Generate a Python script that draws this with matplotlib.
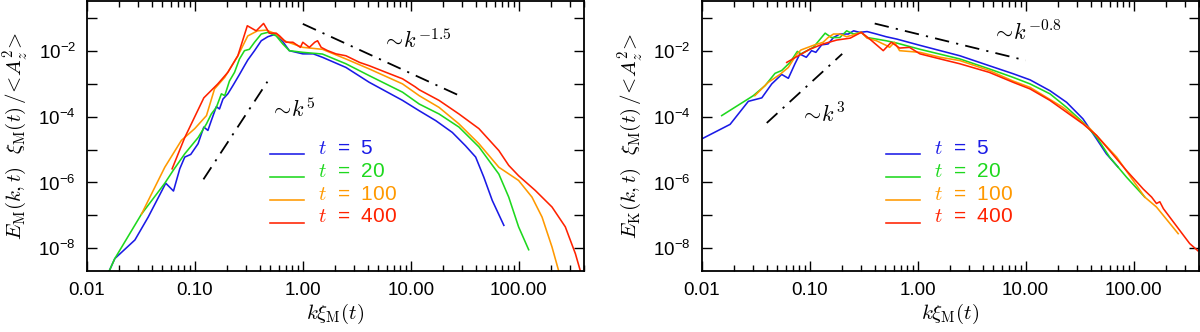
import math

import matplotlib
matplotlib.use("Agg")
import matplotlib.pyplot as plt
from matplotlib.ticker import FixedLocator, FuncFormatter, LogLocator, NullFormatter, NullLocator

plt.rcParams["font.family"] = ["Liberation Sans", "DejaVu Sans"]
plt.rcParams["mathtext.fontset"] = "cm"

# ---- magnetic spectra (left panel), k xi_M vs E_M xi_M / <A_z^2>
EM_K_T5 = [0.016, 0.0181, 0.0278, 0.0369, 0.0537, 0.0633, 0.0724, 0.0805, 0.0915, 0.107,
           0.115, 0.121, 0.132, 0.142, 0.158, 0.169, 0.182, 0.202, 0.225, 0.259, 0.288,
           0.309, 0.357, 0.412, 0.474, 0.567, 0.652, 0.75, 1.0, 1.25, 1.52, 2.51, 4.12,
           8.4, 12, 17.1, 24.3, 32.2, 40, 47.6, 57, 73]
EM_E_T5 = [2e-9, 4.9e-9, 1.8e-8, 8.9e-8, 9.5e-7, 5.5e-7, 2.6e-6, 5.9e-6, 7.1e-6, 1.5e-5,
           3.0e-5, 4.8e-5, 3.8e-5, 7.6e-5, 2.0e-4, 1.7e-4, 3.4e-4, 4.9e-4, 8.7e-4, 1.9e-3,
           3.5e-3, 5.2e-3, 1e-2, 2e-2, 2.65e-2, 3.2e-2, 1.9e-2, 1.0e-2, 8.0e-3, 8.0e-3,
           6.3e-3, 3.1e-3, 1.1e-3, 3.1e-4, 1.5e-4, 7.5e-5, 3.3e-5, 1.3e-5, 5.9e-6, 1.45e-6,
           2.85e-7, 5.0e-8]

EM_K_T20 = [0.016, 0.0181, 0.032, 0.0526, 0.0628, 0.0805, 0.107, 0.128, 0.142, 0.158, 0.176,
            0.189, 0.209, 0.233, 0.259, 0.288, 0.32, 0.357, 0.412, 0.474, 0.567, 0.652, 0.75,
            1.0, 1.52, 2.51, 4.12, 8.4, 12, 18.3, 28, 42.9, 65.6, 81, 100, 124]
EM_E_T20 = [2e-9, 4.9e-9, 1.1e-7, 9.5e-7, 2.3e-6, 7.4e-6, 2.3e-5, 6.0e-5, 1.2e-4, 1.9e-4,
            4.9e-4, 4.3e-4, 1.2e-3, 2.2e-3, 5.6e-3, 1e-2, 1.1e-2, 1.8e-2, 3.2e-2, 3.6e-2,
            2.8e-2, 1.6e-2, 1.0e-2, 8.9e-3, 7.9e-3, 4.0e-3, 1.75e-3, 5.5e-4, 2.4e-4, 1.2e-4,
            4.8e-5, 1.2e-5, 1.8e-6, 3.6e-7, 4.5e-8, 9.1e-9]

EM_K_T100 = [0.032, 0.0526, 0.075, 0.0996, 0.128, 0.152, 0.189, 0.25, 0.309, 0.38, 0.46,
             0.567, 0.67, 1.0, 1.52, 2.51, 4.12, 8.4, 12, 18.3, 28, 42.9, 65.6, 100, 133,
             165, 204, 235]
EM_E_T100 = [1.1e-7, 2.9e-6, 1.9e-5, 4.3e-5, 1.07e-4, 6.9e-4, 1.55e-3, 7e-3, 2.8e-2, 4.0e-2,
             4.2e-2, 3.2e-2, 2.0e-2, 1.26e-2, 1.1e-2, 5.6e-3, 2.8e-3, 9.8e-4, 4.3e-4, 1.9e-4,
             6e-5, 1.5e-5, 2.9e-6, 1.15e-6, 3.6e-7, 8.9e-8, 1.1e-8, 2.1e-9]

EM_K_T400 = [0.0615, 0.0805, 0.121, 0.163, 0.202, 0.25, 0.306, 0.37, 0.433, 0.49, 0.567,
             0.61, 0.70, 0.81, 0.95, 1.0, 1.15, 1.29, 1.37, 1.48, 1.70, 2.03, 2.51, 3.36,
             4.12, 5.9, 8.4, 11.0, 12, 18.3, 28, 42.9, 65.6, 81, 100, 143, 204, 271, 336, 373]
EM_E_T400 = [2.6e-6, 2.3e-5, 3.7e-4, 9.8e-4, 2.2e-3, 7e-3, 5.7e-2, 4.0e-2, 6.7e-2, 3.4e-2,
             3.4e-2, 2.8e-2, 1.8e-2, 1.8e-2, 1.26e-2, 1.8e-2, 1.26e-2, 1.8e-2, 2.0e-2,
             1.26e-2, 1.0e-2, 8e-3, 7e-3, 4.4e-3, 3.5e-3, 2.2e-3, 1.4e-3, 8.0e-4, 6.5e-4,
             3.1e-4, 1.2e-4, 4.3e-5, 9.3e-6, 3.3e-6, 1.6e-6, 5.7e-7, 1.8e-7, 4.5e-8, 6.9e-9,
             2.1e-9]

# ---- kinetic spectra (right panel)
EK_K_T5 = [0.01, 0.0183, 0.027, 0.036, 0.0445, 0.055, 0.0634, 0.073, 0.081, 0.093, 0.104,
           0.114, 0.129, 0.148, 0.166, 0.19, 0.228, 0.255, 0.29, 0.34, 0.415, 0.51, 0.64,
           1.05, 2.46, 4.6, 7.65, 11, 16.8, 24, 34, 45.4, 56, 72]
EK_E_T5 = [2.1e-5, 5.8e-5, 2.9e-4, 3.7e-4, 9.8e-4, 1.9e-3, 1.45e-3, 4e-3, 7.9e-3, 6.3e-3,
           1e-2, 8.9e-3, 1.5e-2, 1.6e-2, 2.5e-2, 3.2e-2, 3.2e-2, 4.0e-2, 3.6e-2, 3.8e-2,
           3.2e-2, 2.65e-2, 2.25e-2, 1.45e-2, 7e-3, 3.5e-3, 2e-3, 1.3e-3, 6.1e-4, 2.7e-4,
           8.5e-5, 2.1e-5, 7.4e-6, 2.9e-6]

EK_K_T20 = [0.0153, 0.030, 0.0386, 0.0477, 0.055, 0.0657, 0.0768, 0.083, 0.108, 0.139,
            0.159, 0.19, 0.22, 0.255, 0.30, 0.34, 0.415, 0.51, 0.64, 1.05, 2.46, 4.6, 7.65,
            11, 16.8, 24, 34, 45.4, 60, 86, 127]
EK_E_T20 = [1.07e-4, 4.3e-4, 8.7e-4, 2.05e-3, 2.5e-3, 4.4e-3, 9.5e-3, 8e-3, 1.26e-2, 3.4e-2,
            2.5e-2, 2.5e-2, 4.0e-2, 3.2e-2, 3.6e-2, 2.5e-2, 2.25e-2, 2e-2, 1.7e-2, 1.1e-2,
            5.6e-3, 2.8e-3, 1.55e-3, 9.8e-4, 4.9e-4, 1.9e-4, 6.7e-5, 2.4e-5, 5.9e-6, 1.45e-6,
            3.6e-7]

EK_K_T100 = [0.031, 0.0414, 0.053, 0.0634, 0.076, 0.083, 0.108, 0.133, 0.148, 0.166, 0.19,
             0.22, 0.27, 0.30, 0.34, 0.415, 0.51, 0.55, 0.61, 0.68, 1.05, 1.62, 2.46, 4.6,
             7.65, 11, 22.2, 39.5, 69.7, 127, 163, 259]
EK_E_T100 = [4.3e-4, 1.1e-3, 1.9e-3, 3.1e-3, 7.9e-3, 1.05e-2, 1.45e-2, 1.8e-2, 2.5e-2,
             3.2e-2, 3.2e-2, 2.65e-2, 3.2e-2, 3.6e-2, 2.4e-2, 2e-2, 1.45e-2, 1.26e-2, 1.8e-2,
             1e-2, 8.9e-3, 6.3e-3, 5e-3, 2.5e-3, 1.2e-3, 7.7e-4, 1.9e-4, 4.3e-5, 5.9e-6,
             3.6e-7, 1.8e-7, 2.8e-8]

EK_K_T400 = [0.0612, 0.0784, 0.1, 0.133, 0.178, 0.237, 0.30, 0.36, 0.48, 0.57, 0.68, 0.84,
             1.05, 1.62, 2.46, 4.6, 7.65, 11, 16.8, 24, 34, 45.4, 60, 86, 123, 147, 163, 175,
             189, 268, 331, 394]
EK_E_T400 = [4.4e-3, 7e-3, 1.1e-2, 1.6e-2, 2.1e-2, 2.4e-2, 3.6e-2, 2.25e-2, 1e-2, 1.8e-2,
             1.2e-2, 1.26e-2, 8e-3, 5.6e-3, 4e-3, 2.2e-3, 1.1e-3, 6.9e-4, 3.1e-4, 1.35e-4,
             6e-5, 2.7e-5, 9.3e-6, 2.3e-6, 6.3e-7, 3.6e-7, 2.3e-7, 2.6e-7, 1.6e-7, 3.5e-8,
             1.4e-8, 8.5e-9]

TIMES = ["5", "20", "100", "400"]
COLORS = ["#1a1ae6", "#1ed81e", "#ff9900", "#ff2200"]

# reference power laws: (k_start, k_end, amplitude, exponent, label k, label y, label)
EM_SLOPES = [(0.12, 0.47, 0.05, 5.0, 0.50, 1.6e-4, r"$\sim\!k^{5}$"),
             (1.0, 30.0, 0.065, -1.5, 5.4, 0.02, r"$\sim\!k^{-1.5}$")]
EK_SLOPES = [(0.04, 0.2, 1.0, 3.0, 0.081, 1.05e-4, r"$\sim\!k^{3}$"),
             (0.4, 10.0, 0.032, -0.8, 4.9, 0.034, r"$\sim\!k^{-0.8}$")]

XLIM = (0.01, 400)
YLIM = (2.1e-9, 0.33)


def y_label(v, _):
    e = round(math.log10(v))
    return r"$\mathregular{10^{%d}}$" % e if e % 2 == 0 else ""


def style_axes(ax, ylabel):
    ax.set_xscale("log")
    ax.set_yscale("log")
    ax.set_xlim(*XLIM)
    ax.set_ylim(*YLIM)
    ax.xaxis.set_major_locator(LogLocator(base=10, numticks=10))
    ax.xaxis.set_minor_locator(LogLocator(base=10, subs=range(2, 10), numticks=20))
    ax.xaxis.set_major_formatter(FuncFormatter(lambda v, _: f"{v:.2f}"))
    ax.xaxis.set_minor_formatter(NullFormatter())
    ax.yaxis.set_major_locator(FixedLocator([10.0 ** e for e in range(-9, 0)]))
    ax.yaxis.set_minor_locator(NullLocator())
    ax.yaxis.set_major_formatter(FuncFormatter(y_label))
    ax.tick_params(which="both", direction="in", top=True, right=True, width=1.0,
                   labelsize=13.5, pad=8)
    ax.tick_params(which="major", length=7)
    ax.tick_params(which="minor", length=4)
    for sp in ax.spines.values():
        sp.set_linewidth(1.3)
    ax.set_xlabel(r"$k\xi_{\rm M}(t)$", fontsize=15, labelpad=2)
    ax.set_ylabel(ylabel, fontsize=15, labelpad=6)


def draw_panel(ax, series, slopes, leg_x):
    for (k, e), color in zip(series, COLORS):
        ax.plot(k, e, color=color, lw=1.15)
    for k0, k1, amp, p, lx, ly, lab in slopes:
        ax.plot([k0, k1], [amp * k0 ** p, amp * k1 ** p], color="black", lw=1.3,
                linestyle=(0, (8, 4, 1.2, 4)))
        ax.text(lx, ly, lab, fontsize=16, ha="left", va="center")
    # legend: short coloured line + coloured label
    for i, (t, color) in enumerate(zip(TIMES, COLORS)):
        y = 0.431 - i * 0.0845
        ax.plot([leg_x, leg_x + 0.068], [y, y], color=color, lw=1.15, transform=ax.transAxes)
        ax.text(leg_x + 0.097, y + 0.022, r"$t$  =  " + t, color=color, fontsize=15,
                ha="left", va="center", transform=ax.transAxes)


fig = plt.figure(figsize=(12, 3.32), dpi=100)
ax1 = fig.add_axes([0.0725, 0.1846, 0.4138, 0.8135])
ax2 = fig.add_axes([0.5848, 0.1846, 0.4140, 0.8135])

draw_panel(ax1, [(EM_K_T5, EM_E_T5), (EM_K_T20, EM_E_T20), (EM_K_T100, EM_E_T100),
                 (EM_K_T400, EM_E_T400)], EM_SLOPES, 0.3686)
draw_panel(ax2, [(EK_K_T5, EK_E_T5), (EK_K_T20, EK_E_T20), (EK_K_T100, EK_E_T100),
                 (EK_K_T400, EK_E_T400)], EK_SLOPES, 0.3705)

style_axes(ax1, r"$E_{\rm M}(k,t)\ \ \xi_{\rm M}(t)\,/\!<\!A_z^2\!>$")
style_axes(ax2, r"$E_{\rm K}(k,t)\ \ \xi_{\rm M}(t)\,/\!<\!A_z^2\!>$")

fig.savefig("out.png", dpi=100)
